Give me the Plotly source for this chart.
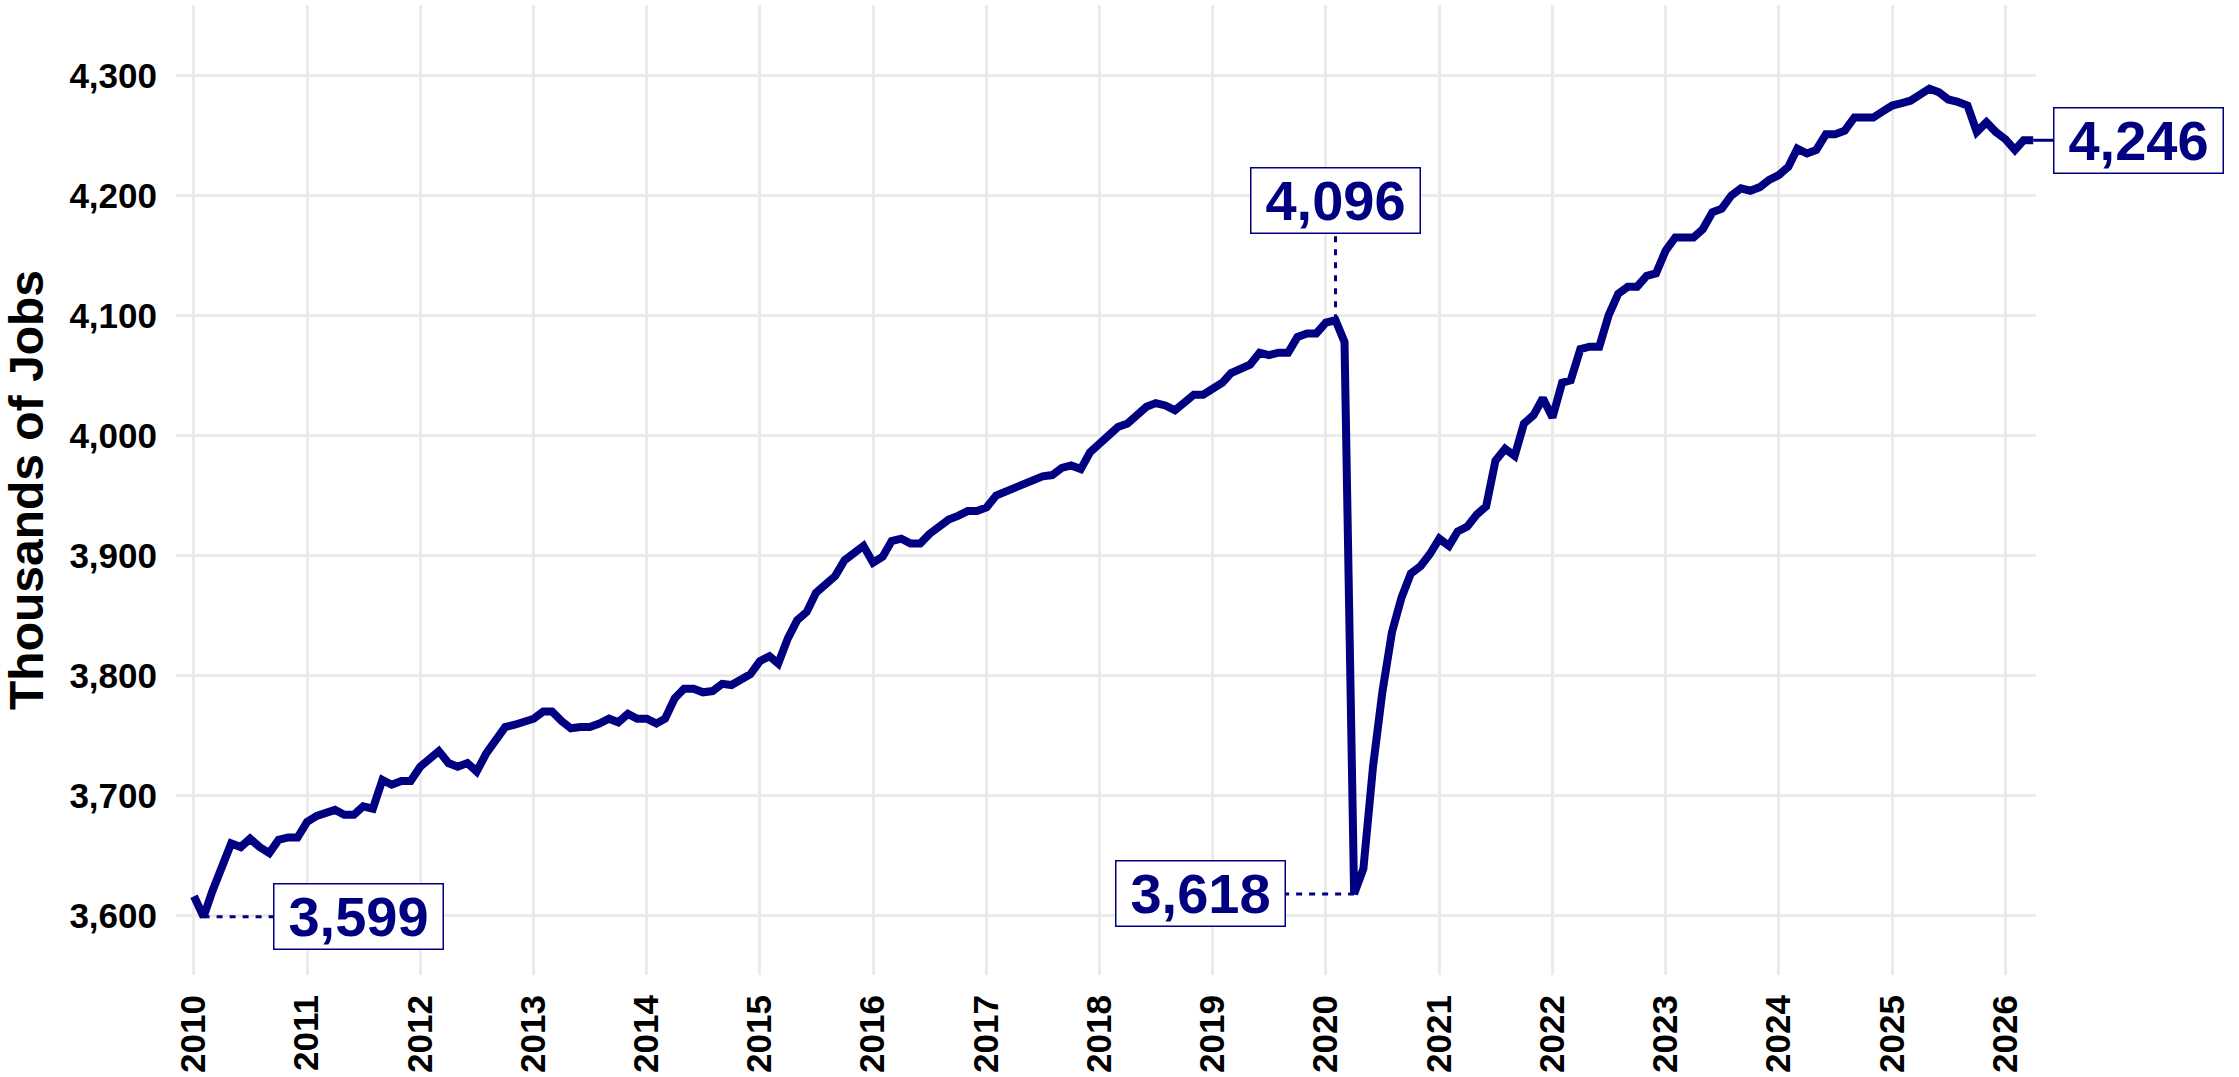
import pandas as pd
import plotly.graph_objects as go

# monthly jobs, thousands, Jan 2010 - Apr 2026
jobs_2010 = [3616, 3599, 3620, 3640, 3660, 3657, 3664, 3657, 3652, 3663, 3665, 3665]
jobs_2011 = [3678, 3683, 3686, 3688, 3684, 3684, 3691, 3689, 3713, 3709, 3712, 3712]
jobs_2012 = [3724, 3730, 3737, 3727, 3724, 3727, 3720, 3735, 3746, 3757, 3759, 3761]
jobs_2013 = [3764, 3770, 3770, 3762, 3756, 3757, 3757, 3760, 3764, 3761, 3768, 3764]
jobs_2014 = [3764, 3760, 3764, 3781, 3789, 3789, 3786, 3787, 3793, 3792, 3796, 3801]
jobs_2015 = [3812, 3816, 3810, 3831, 3846, 3853, 3869, 3876, 3883, 3896, 3902, 3908]
jobs_2016 = [3894, 3899, 3912, 3914, 3910, 3910, 3918, 3925, 3930, 3933, 3937, 3937]
jobs_2017 = [3940, 3950, 3953, 3955, 3958, 3963, 3966, 3967, 3973, 3975, 3972, 3986]
jobs_2018 = [3994, 4000, 4007, 4010, 4016, 4024, 4027, 4025, 4021, 4028, 4034, 4034]
jobs_2019 = [4040, 4044, 4052, 4056, 4059, 4069, 4067, 4069, 4069, 4082, 4085, 4085]
jobs_2020 = [4094, 4096, 4078, 3618, 3639, 3724, 3786, 3836, 3865, 3885, 3891, 3901]
jobs_2021 = [3914, 3908, 3920, 3924, 3934, 3941, 3979, 3989, 3983, 4010, 4017, 4031]
jobs_2022 = [4015, 4044, 4046, 4072, 4074, 4074, 4100, 4118, 4124, 4124, 4133, 4135]
jobs_2023 = [4154, 4165, 4165, 4165, 4172, 4186, 4189, 4200, 4206, 4204, 4207, 4213]
jobs_2024 = [4217, 4224, 4239, 4235, 4238, 4251, 4251, 4254, 4265, 4265, 4265, 4270]
jobs_2025 = [4275, 4277, 4279, 4284, 4289, 4286, 4280, 4278, 4275, 4253, 4261, 4253]
jobs_2026 = [4247, 4238, 4246, 4246]

jobs = (jobs_2010 + jobs_2011 + jobs_2012 + jobs_2013 + jobs_2014 + jobs_2015
        + jobs_2016 + jobs_2017 + jobs_2018 + jobs_2019 + jobs_2020 + jobs_2021
        + jobs_2022 + jobs_2023 + jobs_2024 + jobs_2025 + jobs_2026)
dates = pd.date_range("2010-01-01", periods=len(jobs), freq="MS")

# callouts: point date, value, where the box sits
label_points = ["2010-02-01", "2020-02-01", "2020-04-01"]
label_values = [3599, 4096, 3618]
label_box_x = ["2011-06-16", "2020-02-01", "2018-11-21"]
label_box_y = [3599, 4196, 3618]

y_ticks = [3600, 3700, 3800, 3900, 4000, 4100, 4200, 4300]

NAVY = "#000080"
FONT = "Liberation Sans, Arial, sans-serif"

fig = go.Figure()
fig.add_trace(
    go.Scatter(
        x=dates,
        y=jobs,
        mode="lines",
        line=dict(color=NAVY, width=8),
        hoverinfo="x+y",
    )
)

for px, pv, bx, by in zip(label_points, label_values, label_box_x, label_box_y):
    fig.add_shape(
        type="line",
        xref="x",
        yref="y",
        x0=px,
        y0=pv,
        x1=bx,
        y1=by,
        line=dict(color=NAVY, width=3, dash="6px,7px"),
    )
    fig.add_annotation(
        x=bx,
        y=by,
        xref="x",
        yref="y",
        text=f"{pv:,}",
        showarrow=False,
        font=dict(family=FONT, size=56, color=NAVY, weight="bold"),
        bgcolor="white",
        bordercolor=NAVY,
        borderwidth=1.5,
        borderpad=1,
        width=166,
        height=62,
    )

# last value, label sits in the right margin
fig.add_annotation(
    x=dates[-1],
    y=jobs[-1],
    xref="x",
    yref="y",
    text=f"{jobs[-1]:,}",
    showarrow=True,
    arrowhead=0,
    arrowwidth=3,
    arrowcolor=NAVY,
    ax=105,
    ay=0,
    font=dict(family=FONT, size=56, color=NAVY, weight="bold"),
    bgcolor="white",
    bordercolor=NAVY,
    borderwidth=1.5,
    borderpad=1,
    width=166,
    height=62,
)

fig.update_layout(
    width=2239,
    height=1077,
    plot_bgcolor="white",
    paper_bgcolor="white",
    showlegend=False,
    margin=dict(l=176, r=203, t=5, b=102),
    font=dict(family=FONT, color="black"),
    xaxis=dict(
        type="date",
        range=["2009-11-04", "2026-04-10"],
        dtick="M12",
        tick0="2010-01-01",
        tickformat="%Y",
        tickangle=-90,
        tickfont=dict(family=FONT, size=35, color="black", weight="bold"),
        ticklabelstandoff=12,
        showgrid=True,
        gridcolor="#EBEBEB",
        gridwidth=2.5,
        zeroline=False,
        showline=False,
        automargin=False,
    ),
    yaxis=dict(
        range=[3550.4, 4358.75],
        tickvals=y_ticks,
        tickformat=",d",
        tickfont=dict(family=FONT, size=35, color="black", weight="bold"),
        ticklabelstandoff=18,
        showgrid=True,
        gridcolor="#EBEBEB",
        gridwidth=2.5,
        zeroline=False,
        showline=False,
        automargin=False,
        title=dict(
            text="Thousands of Jobs",
            font=dict(family=FONT, size=48, color="black", weight="bold"),
            standoff=12,
        ),
    ),
)

# the page body has a default 8px margin; drop it so the figure fills the window
fig.write_html(
    "out.html",
    config={"displayModeBar": False},
    post_script="document.body.style.margin = '0';",
)
